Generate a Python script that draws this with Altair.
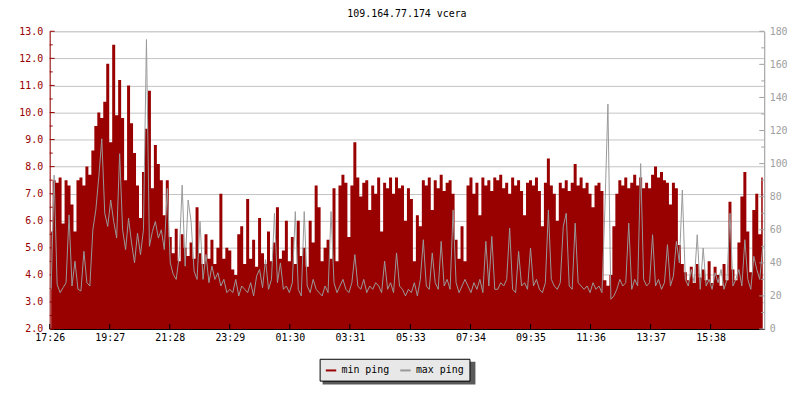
import json
import altair as alt
import pandas as pd

TITLE = "109.164.77.174 vcera"
SERIES = ["min ping", "max ping"]
COLORS = ["#990000", "#999999"]

# one sample every 6 minutes, starting at 17:26
min_ping = [
    5.6, 7.5, 7.4, 7.6, 5.9, 7.5, 7.3, 6.6, 5.6, 7.5,
    7.6, 7.3, 8.0, 7.7, 8.6, 9.5, 10.0, 9.8, 10.4, 11.8,
    8.9, 12.5, 9.9, 11.2, 9.8, 7.5, 11.0, 9.6, 8.5, 7.3,
    6.1, 7.8, 9.4, 10.8, 7.2, 8.8, 8.1, 7.5, 6.2, 7.5,
    5.4, 4.8, 5.7, 4.5, 5.5, 5.0, 4.7, 5.2, 4.6, 6.5,
    4.8, 4.4, 5.5, 4.6, 5.3, 4.4, 5.0, 7.0, 4.6, 5.0,
    4.9, 4.2, 4.0, 5.5, 5.8, 4.4, 6.8, 4.6, 5.3, 4.3,
    6.1, 4.8, 4.4, 5.6, 4.5, 5.2, 6.5, 4.6, 4.9, 6.0,
    4.5, 5.4, 4.4, 6.0, 4.7, 5.0, 4.3, 6.0, 5.2, 7.3,
    6.5, 4.5, 5.0, 5.3, 4.6, 7.2, 4.5, 7.3, 7.7, 7.4,
    5.4, 7.3, 8.9, 7.6, 6.9, 7.4, 7.5, 6.4, 7.3, 7.0,
    7.6, 5.6, 7.4, 7.2, 7.6, 7.0, 7.6, 7.2, 7.3, 6.0,
    7.2, 6.8, 4.5, 6.2, 5.8, 7.5, 7.3, 7.6, 6.4, 7.5,
    7.2, 7.7, 7.1, 7.4, 7.5, 7.0, 5.3, 4.6, 5.8, 4.5,
    7.3, 7.6, 7.0, 7.4, 6.2, 7.6, 7.3, 7.5, 7.1, 7.6,
    7.5, 7.7, 7.2, 7.4, 7.0, 7.6, 7.3, 7.5, 7.1, 6.2,
    7.4, 7.5, 7.3, 7.6, 7.1, 5.8, 7.4, 8.3, 7.3, 7.0,
    6.0, 7.4, 7.2, 7.5, 7.1, 7.4, 8.1, 7.3, 7.6, 7.2,
    7.4, 7.0, 6.5, 7.3, 7.4, 7.1, 3.8, 3.6, 4.0, 5.8,
    7.0, 7.5, 7.3, 7.6, 7.2, 7.4, 7.7, 7.3, 7.6, 7.2,
    7.4, 7.2, 7.7, 8.0, 7.6, 7.8, 7.5, 7.4, 6.6, 7.4,
    7.2, 5.1, 4.4, 4.1, 3.8, 4.3, 3.7, 4.4, 3.9, 4.2,
    3.8, 4.5, 3.7, 4.3, 4.0, 3.6, 4.4, 3.8, 6.7, 4.2,
    3.8, 5.2, 6.9, 7.8, 5.6, 4.1, 6.4, 7.0, 5.5, 7.6,
]

max_ping = [
    24, 93, 27, 22, 25, 28, 69, 26, 41, 24,
    23, 47, 28, 26, 60, 72, 92, 115, 70, 62,
    78, 65, 55, 106, 60, 48, 67, 52, 40, 58,
    45, 60, 175, 50, 59, 65, 55, 60, 48, 85,
    40, 33, 30, 44, 87, 38, 78, 65, 35, 30,
    65, 30, 45, 28, 38, 30, 34, 26, 30, 22,
    24, 22, 30, 20, 26, 24, 22, 28, 20, 32,
    36, 25, 42, 24, 30, 70, 28, 40, 24, 26,
    22, 28, 71, 24, 20, 71, 26, 22, 30, 24,
    22, 20, 26, 22, 71, 28, 22, 26, 30, 24,
    22, 28, 45, 26, 24, 30, 22, 26, 24, 28,
    26, 22, 41, 24, 28, 22, 46, 26, 24, 20,
    24, 22, 28, 20, 30, 54, 26, 24, 46, 28,
    24, 53, 26, 30, 24, 72, 28, 22, 26, 30,
    26, 22, 28, 24, 30, 22, 53, 26, 56, 24,
    24, 28, 26, 30, 61, 24, 22, 47, 26, 28,
    24, 49, 26, 30, 24, 22, 28, 72, 30, 26,
    24, 28, 62, 70, 26, 24, 64, 28, 26, 24,
    26, 22, 28, 24, 26, 22, 73, 136, 18, 20,
    24, 30, 26, 28, 64, 24, 30, 26, 100, 30,
    26, 28, 57, 26, 30, 24, 28, 51, 26, 32,
    53, 40, 84, 30, 26, 36, 28, 57, 24, 49,
    26, 30, 24, 34, 28, 36, 24, 30, 70, 26,
    30, 36, 26, 54, 30, 24, 44, 36, 30, 50,
]

STEP_MIN = 6
sample_minutes = [STEP_MIN * i + STEP_MIN / 2 for i in range(len(min_ping))]

x_tick_minutes = [0, 121, 242, 363, 484, 605, 727, 848, 969, 1090, 1211, 1332]
x_tick_labels = ["17:26", "19:27", "21:28", "23:29", "01:30", "03:31",
                 "05:33", "07:34", "09:35", "11:36", "13:37", "15:38"]

left_major = [2.0, 3.0, 4.0, 5.0, 6.0, 7.0, 8.0, 9.0, 10.0, 11.0, 12.0, 13.0]
left_minor = [2.5, 3.5, 4.5, 5.5, 6.5, 7.5, 8.5, 9.5, 10.5, 11.5, 12.5]
right_major = [0, 20, 40, 60, 80, 100, 120, 140, 160, 180]
right_minor = [10, 30, 50, 70, 90, 110, 130, 150, 170]

FONT = "DejaVu Sans Mono"
W, H = 720, 300

df = pd.DataFrame({
    "t": sample_minutes,
    "min": min_ping,
    "max": max_ping,
    "series_max": SERIES[1],
})

xscale = alt.Scale(domain=[0, 1440], nice=False, zero=False)
lscale = alt.Scale(domain=[2, 13], nice=False, zero=False)
rscale = alt.Scale(domain=[0, 180], nice=False, zero=False)

label_expr = f"{json.dumps(x_tick_labels)}[indexof({json.dumps(x_tick_minutes)}, datum.value)]"

x_axis = alt.Axis(values=x_tick_minutes, labelExpr=label_expr, ticks=False,
                  domainColor="black", labelColor="black", labelFont=FONT,
                  labelFontSize=10, labelPadding=4, grid=False, title=None,
                  labelFlush=False, labelOverlap=False)

left_axis = alt.Axis(orient="left", values=left_major, format=".1f", ticks=False,
                     domainColor=COLORS[0], labelColor=COLORS[0], labelFont=FONT,
                     labelFontSize=10, labelPadding=7, grid=True, gridColor="#c4c4c4",
                     gridOpacity=1, title=None, labelOverlap=False, labelFlush=False)

right_axis = alt.Axis(orient="right", values=right_major, format="d", ticks=False,
                      domainColor="#a0a0a0", labelColor="#a0a0a0", labelFont=FONT,
                      labelFontSize=10, labelPadding=5, grid=False, title=None,
                      labelOverlap=False, labelFlush=False)

base = alt.Chart(df)

area = base.mark_area(color=COLORS[0], interpolate="step", opacity=1).encode(
    x=alt.X("t:Q", scale=xscale, axis=x_axis, title=None),
    y=alt.Y("min:Q", scale=lscale, axis=left_axis, title=None),
    y2=alt.datum(2.0),
)

line = base.mark_line(strokeWidth=1, interpolate="linear").encode(
    x=alt.X("t:Q", scale=xscale, axis=x_axis, title=None),
    y=alt.Y("max:Q", scale=rscale, axis=right_axis, title=None),
    color=alt.Color("series_max:N",
                    scale=alt.Scale(domain=SERIES, range=COLORS),
                    legend=alt.Legend(orient="none", legendX=272, legendY=330,
                                      direction="horizontal", title=None,
                                      fillColor="#e8e8e8", strokeColor="black",
                                      padding=5, columnPadding=6,
                                      labelFont=FONT, labelFontSize=10,
                                      labelColor="black", labelOffset=4,
                                      symbolType="stroke", symbolStrokeWidth=2,
                                      symbolSize=110,
                                      labelExpr="datum.label == 'max ping' ? datum.label + '   ' : datum.label")),
)

lmaj = alt.Chart(pd.DataFrame({"min": left_major})).mark_rule(color=COLORS[0]).encode(
    y=alt.Y("min:Q", scale=lscale, axis=left_axis, title=None), x=alt.value(0), x2=alt.value(5))
lmin = alt.Chart(pd.DataFrame({"min": left_minor})).mark_rule(color=COLORS[0]).encode(
    y=alt.Y("min:Q", scale=lscale, axis=left_axis, title=None), x=alt.value(0), x2=alt.value(3))
rmaj = alt.Chart(pd.DataFrame({"max": right_major})).mark_rule(color="#a0a0a0").encode(
    y=alt.Y("max:Q", scale=rscale, axis=right_axis, title=None), x=alt.value(W - 5), x2=alt.value(W))
rmin = alt.Chart(pd.DataFrame({"max": right_minor})).mark_rule(color="#a0a0a0").encode(
    y=alt.Y("max:Q", scale=rscale, axis=right_axis, title=None), x=alt.value(W - 3), x2=alt.value(W))
xt = alt.Chart(pd.DataFrame({"t": x_tick_minutes})).mark_rule(color="black").encode(
    x=alt.X("t:Q", scale=xscale, axis=x_axis, title=None), y=alt.value(H - 5), y2=alt.value(H))

shadow = alt.Chart(pd.DataFrame({"s": [0]})).mark_rect(color="#5a5a5a").encode(
    x=alt.value(275), x2=alt.value(429), y=alt.value(333), y2=alt.value(356))

left = alt.layer(shadow, area, lmaj, lmin, xt)
right = alt.layer(line, rmaj, rmin)

chart = alt.layer(left, right).resolve_scale(y="independent").properties(
    width=W, height=H,
    autosize=alt.AutoSizeParams(type="none"),
    padding={"left": 42, "top": 22, "right": 28, "bottom": 62},
    title=alt.TitleParams(TITLE, font=FONT, fontSize=10, fontWeight="normal",
                          color="black", anchor="middle", frame="group",
                          baseline="bottom", offset=8, dy=11),
).configure_view(strokeWidth=0).configure(background="white")

chart.save("out.html", embed_options={"renderer": "svg", "actions": False})
